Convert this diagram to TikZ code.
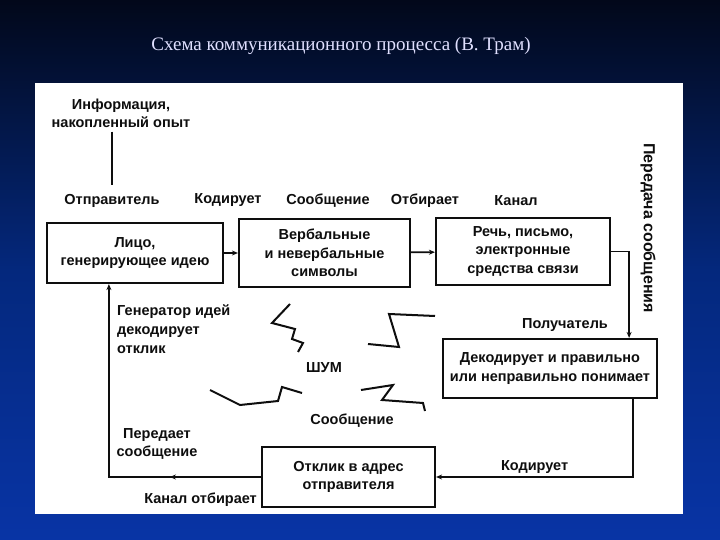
\documentclass[tikz,border=0pt]{standalone}
\usepackage{fontspec}
\setmainfont{Liberation Serif}
\setsansfont{Liberation Sans}
\usetikzlibrary{arrows.meta,positioning,decorations.markings}
\definecolor{bgtop}{RGB}{2,8,26}
\definecolor{bgmid}{RGB}{4,40,125}
\definecolor{bgbot}{RGB}{8,52,165}
\definecolor{ink}{RGB}{14,14,14}

\begin{document}
\begin{tikzpicture}[
  x=1pt,y=-1pt,
  title/.style={font=\fontsize{19}{22}\selectfont,text=white!88!blue},
  lbl/.style={font=\sffamily\bfseries\fontsize{14.5}{18}\selectfont,text=ink,inner sep=1pt,align=center},
  box/.style={draw=ink,line width=2.2pt,align=center,inner sep=2pt,
    font=\sffamily\bfseries\fontsize{14.5}{18.5}\selectfont,text=ink},
  link/.style={draw=ink,line width=1.8pt},
  arr/.style={link,-{Stealth[length=6pt,width=5pt]}},
  backarr/.style={link,postaction={decorate},decoration={markings,
    mark=at position 91pt with {\arrow{Stealth[length=6pt,width=5pt]}}}},
  noise/.style={draw=ink,line width=2pt,line join=miter}
]
\useasboundingbox (0,0) rectangle (720,540);
\fill[top color=bgtop,bottom color=bgbot,middle color=bgmid] (0,0) rectangle (720,540);
\node[title] (head) at (341,46) {Схема коммуникационного процесса (В. Трам)};
\fill[white] (35,83) rectangle (683,514);

% Sender side: source, labels above the upper row
\node[lbl] (info) at (121,113) {Информация,\\накопленный опыт};
\node[lbl] (sndlbl) at (112,201) {Отправитель};
\node[lbl] (enclbl) at (228,200) {Кодирует};
\node[lbl] (msglbl) at (328,201) {Сообщение};
\node[lbl] (sellbl) at (425,201) {Отбирает};
\node[lbl] (chnlbl) at (516,201) {Канал};
\draw[link,shorten <=3pt,shorten >=8pt] (sndlbl.north |- info.south) -- (sndlbl.north);

% Upper row of boxes
\node[box,minimum width=176pt,minimum height=60pt] (person) at (135,253) {Лицо,\\генерирующее идею};
\node[box,minimum width=171pt,minimum height=68pt] (symbols) at (324.5,253) {Вербальные\\и невербальные\\символы};
\node[box,minimum width=174pt,minimum height=67pt] (channel) at (523,251.5) {Речь, письмо,\\электронные\\средства связи};
\draw[arr] (person) -- (symbols);
\draw[arr] (symbols) -- (channel);
\node[lbl,rotate=-90,font=\sffamily\bfseries\fontsize{16}{18}\selectfont] (sendlbl) at (648,228) {Передача сообщения};

% Receiver and the way back
\node[lbl] (rcvlbl) at (565,325) {Получатель};
\node[box,minimum width=214pt,minimum height=59pt] (receiver) at (550,368.5) {Декодирует и правильно\\или неправильно понимает};
\node[box,minimum width=173pt,minimum height=60pt] (reply) at (348.5,477) {Отклик в адрес\\отправителя};
\draw[arr] (channel.east) -| ([xshift=-29pt]receiver.north east);
\draw[arr] ([xshift=-25pt]receiver.south east) |- node[lbl,pos=0.75,above=2pt] (reenc) {Кодирует} (reply.east);
\draw[backarr,arr] (reply.west) -| ([xshift=63pt]person.south west);
\node[lbl,anchor=east] (backch) at (258,500) {Канал отбирает};
\node[lbl,align=left,anchor=north west,font=\sffamily\bfseries\fontsize{14.5}{19}\selectfont] (decode) at (116,304) {Генератор идей\\декодирует\\отклик};
\node[lbl] (resend) at (157,444) {Передает\\сообщение};

% Noise
\node[lbl] (noiselbl) at (324,368) {ШУМ};
\node[lbl] (msg2lbl) at (352,421) {Сообщение};
\draw[noise] (290,304) -- (272,323) -- (295,329) -- (292,339) -- (303,343) -- (298,352);
\draw[noise] (435,316) -- (389,314) -- (399,347) -- (368,344);
\draw[noise] (210,390) -- (240,405) -- (278,401) -- (282,387) -- (302,393);
\draw[noise] (361,390) -- (393,385) -- (382,400) -- (423,403) -- (425,411);
\end{tikzpicture}
\end{document}
